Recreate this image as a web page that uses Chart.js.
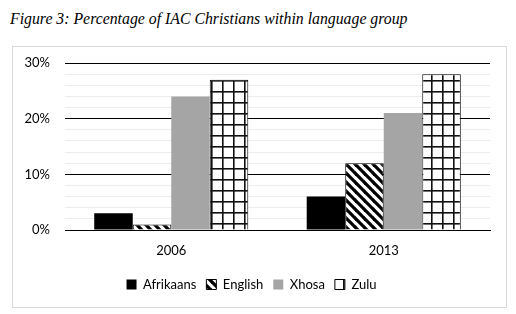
<!DOCTYPE html>
<html>
<head>
<meta charset="utf-8">
<script src="https://cdn.jsdelivr.net/npm/chart.js@4"></script>
<style>
  body { margin: 0; background: #fff; width: 516px; height: 314px; position: relative; overflow: hidden; }
  #title { position: absolute; left: 10px; top: 10px; font-family: "Liberation Serif", serif; font-style: italic; font-size: 15.8px; color: #000; white-space: nowrap; }
  #box { position: absolute; left: 12px; top: 46px; width: 493px; height: 260px; border: 1px solid #d9d9d9; }
</style>
</head>
<body>
<div id="title">Figure 3: Percentage of IAC Christians within language group</div>
<div id="box"><canvas id="chart" width="493" height="260"></canvas></div>
<script>
const years = ['2006', '2013'];
const afrikaans = [3, 6];
const english = [1, 12];
const xhosa = [24, 21];
const zulu = [27, 28];

function stripePattern() {
    const c = document.createElement('canvas');
    c.width = c.height = 9;
    const x = c.getContext('2d');
    x.fillStyle = '#fff';
    x.fillRect(0, 0, 9, 9);
    x.strokeStyle = '#000';
    x.lineWidth = 3.2;
    for (const k of [-9, 0, 9]) {
        x.beginPath();
        x.moveTo(-1, k - 1);
        x.lineTo(10, k + 10);
        x.stroke();
    }
    return x.createPattern(c, 'repeat');
}

function gridPattern() {
    const c = document.createElement('canvas');
    c.width = c.height = 11;
    const x = c.getContext('2d');
    x.fillStyle = '#fff';
    x.fillRect(0, 0, 11, 11);
    x.fillStyle = '#111';
    x.fillRect(0, 0, 1.6, 11);
    x.fillRect(0, 0, 11, 1.6);
    return x.createPattern(c, 'repeat');
}

const font = { family: 'Lato, "Open Sans", sans-serif', size: 13 };

new Chart(document.getElementById('chart'), {
    type: 'bar',
    data: {
        labels: years,
        datasets: [
            { label: 'Afrikaans', data: afrikaans, backgroundColor: '#000', borderWidth: 0 },
            { label: 'English', data: english, backgroundColor: stripePattern(), borderColor: '#000', borderWidth: 1 },
            { label: 'Xhosa', data: xhosa, backgroundColor: '#a5a5a5', borderWidth: 0 },
            { label: 'Zulu', data: zulu, backgroundColor: gridPattern(), borderColor: '#000', borderWidth: 1 },
        ],
    },
    options: {
        responsive: false,
        animation: false,
        categoryPercentage: 0.725,
        barPercentage: 1,
        layout: { padding: { top: 16, right: 16, bottom: 6, left: 0 } },
        plugins: {
            tooltip: { enabled: false },
            legend: {
                position: 'bottom',
                labels: { font: font, color: '#000', boxWidth: 10, boxHeight: 10, padding: 10 },
            },
        },
        scales: {
            x: {
                grid: { display: false, drawTicks: false },
                border: { display: true, color: '#000', width: 1 },
                ticks: { font: font, color: '#000', padding: 13 },
                afterFit: (scale) => { scale.height = 38; },
            },
            y: {
                min: 0,
                max: 30,
                border: { display: false },
                grid: {
                    drawTicks: false,
                    color: (ctx) => ctx.tick.value % 10 === 0 ? '#000' : '#ececec',
                },
                ticks: {
                    stepSize: 2,
                    autoSkip: false,
                    font: font,
                    color: '#000',
                    padding: 15,
                    callback: (v) => v % 10 === 0 ? v + '%' : '',
                },
                afterFit: (scale) => {
                    scale.width = 52;
                    scale.paddingTop = 0;
                    scale.paddingBottom = 0;
                },
            },
        },
    },
});
</script>
</body>
</html>
